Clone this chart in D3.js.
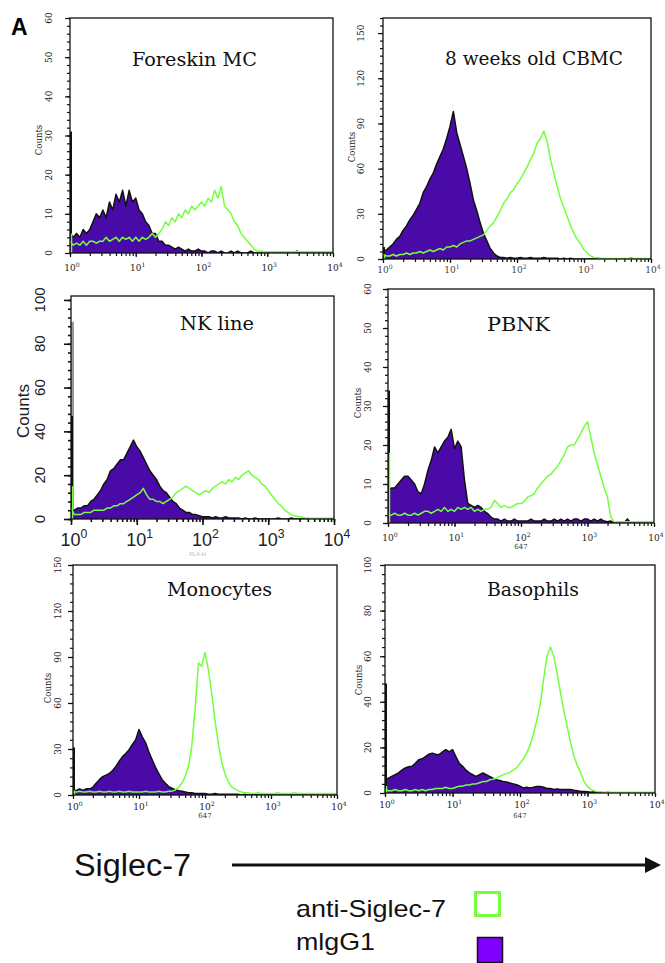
<!DOCTYPE html>
<html><head><meta charset="utf-8">
<script src="https://cdn.jsdelivr.net/npm/d3@7/dist/d3.min.js"></script>
<style>body{margin:0;background:#fff}svg{display:block}</style>
</head><body>
<script>
// ---------- DATA ----------
// histogram channels, as log10(fluorescence)
const channelExponents = [0,0.05,0.1,0.15,0.2,0.25,0.3,0.35,0.4,0.45,
 0.5,0.55,0.6,0.65,0.7,0.75,0.8,0.85,0.9,0.95,
 1,1.05,1.1,1.15,1.2,1.25,1.3,1.35,1.4,1.45,
 1.5,1.55,1.6,1.65,1.7,1.75,1.8,1.85,1.9,1.95,
 2,2.05,2.1,2.15,2.2,2.25,2.3,2.35,2.4,2.45,
 2.5,2.55,2.6,2.65,2.7,2.75,2.8,2.85,2.9,2.95,
 3,3.05,3.1,3.15,3.2,3.25,3.3,3.35,3.4,3.45,
 3.5,3.55,3.6,3.65,3.7,3.75,3.8,3.85,3.9,3.95,4];

const panelTitles = ["Foreskin MC","8 weeks old CBMC","NK line","PBNK","Monocytes","Basophils"];
const seriesNames = ["anti-Siglec-7","mlgG1"];
const axisTitleX = "Siglec-7";
const axisTitleY = "Counts";
const channelName = "647";

const decadeTicks = [1,10,100,1000,10000];
const decadeLabels = ["0","1","2","3","4"];

const foreskinTicks = [0,10,20,30,40,50,60];
const cbmcTicks = [0,30,60,90,120,150];
const nkTicks = [0,20,40,60,80,100];
const pbnkTicks = [0,10,20,30,40,50,60];
const monoTicks = [0,30,60,90,120,150];
const basoTicks = [0,20,40,60,80,100];

// left-edge (first channel) pile-up counts: [mIgG1, anti-Siglec-7]
const foreskinEdge = [31,5];
const cbmcEdge = [8,3];
const nkEdge = [47,15];
const nkGreyEdge = 90;
const pbnkEdge = [34,18];
const monoEdge = [31,3];
const basoEdge = [48,3];

const foreskinIso = [5,4,5,4,6,5,6,8,10,9,
 11,9,13,11,15,13,16,12,16,13,
 14,11,10,8,7,5,5,3,3,2,
 2,1.5,1,1.5,1,0.5,1,0.5,0.5,1,
 0.5,0.5,0,0.5,0.5,0,0.5,0,0,0.5,
 0,0.5,0,0,0,0.5,0,0,0,0,
 0,0,0,0,0,0,0,0,0,0.5,
 0,0,0,0,0,0,0,0,0,0,0];
const foreskinAnti = [3,2,2.5,2,3,2,3,3,2.5,3,
 3,4,3,3.5,4,3,4,3.5,4,3,
 4,3,4,3.5,4,5,4,5,6,8,
 7,9,8,10,9,11,10,12,11,12,
 13,12,14,13,16,14,17,12,11,10,
 8,7,5,4,3,2,1,0.5,0.5,0.3,
 0.3,0.3,0.3,0.3,0.3,0.3,0.3,0.3,0.3,0.3,
 0.3,0.3,0.3,0.3,0.3,0.3,0.3,0.3,0.3,0.3,0.3];

const cbmcIso = [5,6,8,10,13,15,19,22,26,29,
 33,37,44,48,53,57,63,68,73,80,
 88,98,84,76,68,60,50,39,32,24,
 17,12,7,4,2,1,1,0.5,1,0.5,
 0.5,1,0.5,0.5,1,0.5,0.5,0.5,1,0.5,
 0.5,0.5,0.5,0,0.5,0,0.5,0,0,0,
 0,0,0,0,0.5,0,0,0,0,0,
 0,0,0,0,0.5,0,0,0,0,0,0];
const cbmcAnti = [3,2,2,3,2,3,3,4,3,4,
 4,5,4,5,6,5,6,7,6,8,
 8,9,8,10,11,12,12,13,14,15,
 16,19,22,24,28,32,37,40,44,46,
 50,53,57,61,66,70,77,80,85,78,
 66,57,48,40,34,28,22,17,13,10,
 6,4,2,1,0.5,0.5,0.3,0.3,0.3,0.3,
 0.3,0.3,0.3,0.3,0.3,0.3,0.3,0.3,0.3,0.3,0.3];

const nkIso = [4,4,5,5,6,6,8,9,11,13,
 16,18,22,23,25,27,27,30,33,36,
 33,31,28,25,22,20,18,15,13,12,
 10,8,7,5,4,3,3,2,2,1.5,
 1,1,1,0.5,1,0.5,0.5,1,0.5,0.5,
 0.5,0.5,0,0.5,0,0,0.5,0,0,0,
 0,0,0,0.5,0,0,0,0.5,0,0,
 0,0,0,0,0,0,0,0,0,0,0];
const nkAnti = [5,2,2,2,3,3,3,4,4,4,
 4,5,5,6,6,7,7,8,9,10,
 11,12,14,11,9,9,8,8,7,8,
 9,10,12,13,14,15,14,13,12,11,
 12,13,12,14,15,16,17,16,18,17,
 19,18,20,21,22,20,19,18,16,15,
 13,11,9,7,6,4,3,2,1.5,1,
 1,0.5,0.5,0.3,0.3,0.3,0.3,0.3,0.3,0.3,0.3];

const pbnkIso = [8,9,9,10,11,12,12,11,10,8,
 7.5,10,13.5,16,19.5,18,19.5,21,22,24,
 19,21,19.5,11,5,4.5,4,4.5,4,3,
 2.4,1.5,1,1,0.5,1,0.5,0.5,1,0.5,
 0.5,0.5,0.5,1,0.5,0.5,0.5,1,0.5,0.5,
 1,0.5,1,0.5,1,0.5,1,1,0.5,1,
 1,0.5,1,0.5,1,0.5,0.3,0.5,0,0,
 0,0,1,0,0,0,0,0,0,0,0];
const pbnkAnti = [2,2,2.5,2,2,2.5,2,2,2.5,2,
 2.5,3,3,2.5,3,3.5,3,4,3,3.5,
 3,4,3.5,4,3.5,4,3,3.5,3,3.5,
 3.5,4,5.8,5,4,4.5,4,4,4.5,5,
 5,5.5,6.7,7,7.5,9,10,11,12,12.5,
 13.5,14.5,16,17.5,19.5,20,20,21.5,23,24.7,
 26,22,18,15,12,9,6.7,1.5,0.3,0.3,
 0.3,0.3,0.3,0.3,0.3,0.3,0.3,0.3,0.3,0.3,0.3];

const monoIso = [3,3,4,3,4,4,5,7.7,10,12,
 13,14,16,18.6,22,25,27,29.5,33,36,
 42.7,38,34,28,23,18,14,10,7.6,5.5,
 4.4,3.5,2.8,2.5,2,1.5,1.5,1,1,1,
 1,0.5,0.5,1,0.5,0.5,0.5,0.5,0.5,0.5,
 0.5,0,0.5,0,0,0.5,0,0,0,0,
 0,0,0,0,0,0,0,0,0,0,
 0,0,0,0,0,0,0,0,0,0,0];
const monoAnti = [2,2,2.5,2,2,2.5,2,2,2.5,2,
 2,2.5,2,2,2.5,2,2,2.5,2,2,
 2,2,2.5,2,2,2,2.5,2,2,2.5,
 2.5,3.3,5,7.7,12,18.6,32,56,86,84,
 93,82,67,49,34,22,14,9,5.5,4,
 2.8,2,1.5,1.5,1,1,1.5,1,1,1,
 1,1,1.5,1,1,1,1,1.5,1,1,
 1,1,1,1,1,1,1,1,1,1,1];

const basoIso = [6,6.5,7.3,8,8.8,10,11,11.5,11.7,13,
 14.6,15,16,17,17.5,17,16.8,18,19,18,
 19,16,13,11.7,10,8.8,8,7.3,8,8.8,
 8,7.3,6.5,5.8,5.5,5.1,4.8,4.4,4,3.6,
 3,2.2,2.5,2.2,2.5,2.9,2.9,2.5,2,2,
 1.5,1.8,1.5,1.5,1.5,1.5,1.2,1,0.7,0.7,
 0.5,0.3,0.5,0.3,0,0,0.3,0,0,0,
 0,0,0,0,0,0,0,0,0,0,0];
const basoAnti = [1.5,1,1,1.5,1,1,1.5,1,1,1.5,
 1,1.5,1,1.5,1.5,2,2,2,2.5,2,
 2,2.5,3,3,3.5,3.5,4,4,4.5,5,
 5,5.8,6,6.5,7.3,8,8.5,9,10,11,
 13,15,17.5,21,26,32,39,50,60,64,
 60,52.5,44,36,29,22,16,12,8.8,5,
 2.9,1.5,1,0.5,0.5,0.3,0.3,0.3,0.3,0.3,
 0.3,0.3,0.3,0.3,0.3,0.3,0.3,0.3,0.3,0.3,0.3];

// ---------- STYLE / LAYOUT ----------
const GREEN = "#74ff3e";
const PURPLE = "#4a0aa8";
const LEG_PURPLE = "#7f00ff";
const SERIF = "'DejaVu Serif','Liberation Serif',serif";
const SANS = "'Liberation Sans',Arial,sans-serif";

const panels = [
 {iso:foreskinIso, anti:foreskinAnti, edge:foreskinEdge, ticks:foreskinTicks, ymax:60,
  left:70,right:333,top:18,bottom:253, titleX:194.5,titleY:66,titleW:125,
  yLabX:49, countsX:39, countsY:140, xLabY:271, minor:2},
 {iso:cbmcIso, anti:cbmcAnti, edge:cbmcEdge, ticks:cbmcTicks, ymax:160,
  left:383,right:651,top:18,bottom:259, titleX:534,titleY:65,titleW:178,
  yLabX:361, countsX:352, countsY:147, xLabY:273, minor:5, faintX:true},
 {iso:nkIso, anti:nkAnti, edge:nkEdge, ticks:nkTicks, ymax:101.8, big:true, grey:nkGreyEdge,
  left:71,right:334,top:296,bottom:519, titleX:217,titleY:330,titleW:74,
  yLabX:39, countsX:23, countsY:411, xLabY:546, minor:4},
 {iso:pbnkIso, anti:pbnkAnti, edge:pbnkEdge, ticks:pbnkTicks, ymax:60,
  left:388,right:654,top:289,bottom:523, titleX:518.5,titleY:331,titleW:63,
  yLabX:368, countsX:358, countsY:403, xLabY:541, minor:2, sub:true, subY:549},
 {iso:monoIso, anti:monoAnti, edge:monoEdge, ticks:monoTicks, ymax:150,
  left:73,right:337,top:565,bottom:795, titleX:219.5,titleY:596,titleW:105,
  yLabX:58, countsX:48, countsY:688, xLabY:810, minor:6, sub:true, subY:818},
 {iso:basoIso, anti:basoAnti, edge:basoEdge, ticks:basoTicks, ymax:100,
  left:385,right:655,top:565,bottom:793, titleX:533,titleY:596,titleW:92,
  yLabX:368, countsX:359, countsY:680, xLabY:808, minor:4, sub:true, subY:818}
];

const svg = d3.select("body").append("svg").attr("width",665).attr("height",963)
  .style("font-family",SANS);
svg.append("rect").attr("width",665).attr("height",963).attr("fill","#fff");

svg.append("text").attr("x",11).attr("y",35).attr("font-size",23).attr("font-weight","bold")
  .attr("font-family",SANS).text("A");

panels.forEach((p,pi)=>{
  const g = svg.append("g");
  const x = d3.scaleLog().domain([1,1e4]).range([p.left,p.right]);
  const y = d3.scaleLinear().domain([0,p.ymax]).range([p.bottom,p.top]);
  const toPts = vals => channelExponents.map((e,i)=>[Math.pow(10,e), vals[i]]);
  const clipId = "clip"+pi;
  g.append("clipPath").attr("id",clipId).append("rect")
    .attr("x",p.left).attr("y",p.top).attr("width",p.right-p.left).attr("height",p.bottom-p.top);
  const plot = g.append("g").attr("clip-path",`url(#${clipId})`);

  const area = d3.area().x(d=>x(d[0])).y0(y(0)).y1(d=>y(d[1]));
  const line = d3.line().x(d=>x(d[0])).y(d=>y(d[1]));
  const isoPts = toPts(p.iso), antiPts = toPts(p.anti);

  if (p.grey) {
    plot.append("line").attr("x1",x(1)+1.5).attr("x2",x(1)+1.5).attr("y1",y(0)).attr("y2",y(p.grey))
      .attr("stroke","#9a9a9a").attr("stroke-width",3);
  }
  plot.append("path").datum(isoPts).attr("d",area).attr("fill",PURPLE);
  plot.append("path").datum(isoPts).attr("d",line).attr("fill","none")
    .attr("stroke","#111").attr("stroke-width",1.5).attr("stroke-linejoin","round");
  plot.append("line").attr("x1",x(1)+1).attr("x2",x(1)+1).attr("y1",y(0)).attr("y2",y(p.edge[0]))
    .attr("stroke","#111").attr("stroke-width",2);
  plot.append("line").attr("x1",x(1)+1.5).attr("x2",x(1)+1.5).attr("y1",y(0)).attr("y2",y(p.edge[1]))
    .attr("stroke",GREEN).attr("stroke-width",1.5);
  plot.append("path").datum(antiPts).attr("d",line).attr("fill","none")
    .attr("stroke",GREEN).attr("stroke-width",1.5).attr("stroke-linejoin","round");

  // frame
  g.append("rect").attr("x",p.left).attr("y",p.top).attr("width",p.right-p.left).attr("height",p.bottom-p.top)
    .attr("fill","none").attr("stroke","#111").attr("stroke-width",1.3);

  // y axis ticks
  const yMajor = g.append("g").attr("transform",`translate(${p.left},0)`)
    .call(d3.axisLeft(y).tickValues(p.ticks).tickSize(p.big?7:5).tickFormat(""));
  const yMinor = g.append("g").attr("transform",`translate(${p.left},0)`)
    .call(d3.axisLeft(y).tickValues(d3.range(0,p.ymax+0.001,p.minor)).tickSize(3).tickFormat(""));
  // x axis ticks
  const xMajor = g.append("g").attr("transform",`translate(0,${p.bottom})`)
    .call(d3.axisBottom(x).tickValues(decadeTicks).tickSize(p.big?6:4).tickFormat(""));
  const xMinor = g.append("g").attr("transform",`translate(0,${p.bottom})`)
    .call(d3.axisBottom(x).tickValues(x.ticks()).tickSize(3).tickFormat(""));
  [yMajor,yMinor,xMajor,xMinor].forEach(a=>{
    a.select(".domain").remove();
    a.selectAll("line").attr("stroke","#111").attr("stroke-width",p.big?1.6:1.2);
  });

  // y tick labels (rotated)
  const yfs = p.big ? 15 : 9;
  g.selectAll(".ylab").data(p.ticks).enter().append("text")
    .attr("transform",d=>`translate(${p.yLabX},${y(d)}) rotate(-90)`)
    .attr("text-anchor","middle").attr("dominant-baseline","central")
    .attr("font-size",yfs).attr("font-family",p.big?SANS:SERIF).attr("fill","#222")
    .text(d=>d);
  g.append("text").attr("transform",`translate(${p.countsX},${p.countsY}) rotate(-90)`)
    .attr("text-anchor","middle").attr("dominant-baseline","central")
    .attr("font-size",p.big?17:8.5).attr("font-family",p.big?SANS:SERIF).attr("fill","#222")
    .text(axisTitleY);

  // x tick labels 10^n
  const xfs = p.big ? 18 : 9;
  decadeTicks.forEach((v,i)=>{
    const t = g.append("text").attr("x",x(v)+ (p.big?3:2)).attr("y",p.xLabY)
      .attr("text-anchor","middle").attr("font-size",xfs)
      .attr("font-family",p.big?SANS:SERIF).attr("fill",p.faintX?"#444":"#222");
    t.append("tspan").text("10");
    t.append("tspan").attr("dy",-xfs*0.45).attr("font-size",xfs*0.68).text(decadeLabels[i]);
  });
  if (p.sub) {
    g.append("text").attr("x",x(100)).attr("y",p.subY).attr("text-anchor","middle")
      .attr("font-size",7).attr("font-family",SERIF).attr("fill","#333").text(channelName);
  }
  if (p.big) {
    g.append("text").attr("x",x(100)-5).attr("y",556).attr("text-anchor","middle")
      .attr("font-size",6).attr("fill","#bbb").text("FL4-H");
  }

  // title
  g.append("text").attr("x",p.titleX).attr("y",p.titleY).attr("text-anchor","middle")
    .attr("font-family",SERIF).attr("font-size",18).attr("fill","#111")
    .attr("textLength",p.titleW).attr("lengthAdjust","spacingAndGlyphs")
    .text(panelTitles[pi]);
});

// bottom axis title with arrow
svg.append("text").attr("x",74).attr("y",876).attr("font-size",31).attr("fill","#111")
  .attr("textLength",117).attr("lengthAdjust","spacingAndGlyphs").text(axisTitleX);
svg.append("line").attr("x1",232).attr("x2",648).attr("y1",865).attr("y2",865)
  .attr("stroke","#111").attr("stroke-width",3);
svg.append("path").attr("d","M645,857 L661,865 L645,873 Z").attr("fill","#111");

// legend
svg.append("text").attr("x",296).attr("y",917).attr("font-size",24).attr("fill","#111")
  .attr("textLength",150).attr("lengthAdjust","spacingAndGlyphs").text(seriesNames[0]);
svg.append("rect").attr("x",475.5).attr("y",892.5).attr("width",24).attr("height",23)
  .attr("fill","#fff").attr("stroke",GREEN).attr("stroke-width",3);
svg.append("text").attr("x",296).attr("y",950).attr("font-size",24).attr("fill","#111")
  .attr("textLength",79).attr("lengthAdjust","spacingAndGlyphs").text(seriesNames[1]);
svg.append("rect").attr("x",477.5).attr("y",937.5).attr("width",25).attr("height",25)
  .attr("fill",LEG_PURPLE).attr("stroke","#111").attr("stroke-width",1.5);
</script>
</body></html>
